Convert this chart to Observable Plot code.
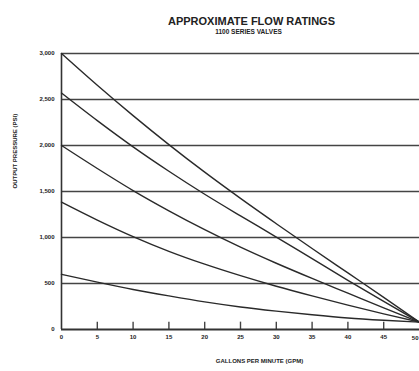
<!DOCTYPE html>
<html>
<head>
<meta charset="utf-8">
<script src="https://cdn.jsdelivr.net/npm/d3@7"></script>
<script src="https://cdn.jsdelivr.net/npm/@observablehq/plot@0.6"></script>
<style>
  html, body { margin: 0; padding: 0; background: #fff; }
  #chart { width: 419px; height: 371px; overflow: hidden; }
</style>
</head>
<body>
<div id="chart"></div>
<script>
const titleText = "APPROXIMATE FLOW RATINGS";
const subtitleText = "1100 SERIES VALVES";
const xLabel = "GALLONS PER MINUTE (GPM)";
const yLabel = "OUTPUT PRESSURE (PSI)";

const gpm = [0, 5, 10, 15, 20, 25, 30, 35, 40, 45, 50];
const curve1 = [3000, 2655, 2325, 2010, 1710, 1425, 1150, 880, 615, 350, 80];
const curve2 = [2570, 2270, 1985, 1720, 1470, 1235, 1005, 770, 535, 305, 80];
const curve3 = [2000, 1750, 1510, 1290, 1085, 895, 720, 555, 395, 235, 80];
const curve4 = [1385, 1190, 1010, 850, 710, 585, 470, 365, 265, 170, 80];
const curve5 = [600, 515, 435, 365, 300, 245, 200, 160, 125, 100, 80];
const seriesNames = ["c1", "c2", "c3", "c4", "c5"];

const xTicks = [0, 5, 10, 15, 20, 25, 30, 35, 40, 45, 50];
const yTicks = [0, 500, 1000, 1500, 2000, 2500, 3000];

const allCurves = [curve1, curve2, curve3, curve4, curve5];
const data = [];
allCurves.forEach((c, i) => c.forEach((v, j) => data.push({series: seriesNames[i], x: gpm[j], y: v})));

const inner = xTicks.slice(1, -1);
const lastTick = xTicks[xTicks.length - 1];

const chart = Plot.plot({
  width: 419,
  height: 371,
  marginLeft: 61,
  marginRight: 0,
  marginTop: 53,
  marginBottom: 42,
  x: {domain: [0, 50]},
  y: {domain: [0, 3000]},
  style: {fontFamily: "Liberation Sans, Arial, sans-serif", background: "#fff", color: "#222"},
  marks: [
    Plot.gridY(yTicks.slice(1), {stroke: "#444", strokeOpacity: 1, strokeWidth: 1.5}),
    Plot.ruleX(inner, {x: d => d, y1: 0, y2: 80, stroke: "#444", strokeWidth: 1.4}),
    Plot.ruleX([0], {stroke: "#333", strokeWidth: 1.6}),
    Plot.ruleY([0], {stroke: "#333", strokeWidth: 1.8}),
    Plot.axisX(xTicks.slice(0, -1), {tickSize: 0, tickPadding: 5, fontSize: 6, fontWeight: "bold", label: null}),
    Plot.text([lastTick], {x: d => d, y: 0, text: d => String(d), textAnchor: "end", dx: -1, dy: 9, fontSize: 6, fontWeight: "bold", fill: "#222"}),
    Plot.axisY(yTicks, {tickSize: 0, tickPadding: 7, fontSize: 6, fontWeight: "bold", tickFormat: d3.format(","), label: null}),
    Plot.line(data, {x: "x", y: "y", z: "series", stroke: "#2a2a2a", strokeWidth: 1.4, curve: "monotone-x"}),
    Plot.text([titleText], {text: d => d, frameAnchor: "top", dx: 11, dy: -36, fontSize: 11, fontWeight: 900, fill: "#222"}),
    Plot.text([subtitleText], {text: d => d, frameAnchor: "top", dx: 8, dy: -24, fontSize: 6.5, fontWeight: 900, fill: "#222"}),
    Plot.text([xLabel], {text: d => d, frameAnchor: "bottom", dx: 19, dy: 33, fontSize: 6, fontWeight: "bold", fill: "#222"}),
    Plot.text([yLabel], {text: d => d, frameAnchor: "left", dx: -46, dy: -3, rotate: -90, fontSize: 6, fontWeight: "bold", fill: "#222"})
  ]
});
document.getElementById("chart").appendChild(chart);
</script>
</body>
</html>
